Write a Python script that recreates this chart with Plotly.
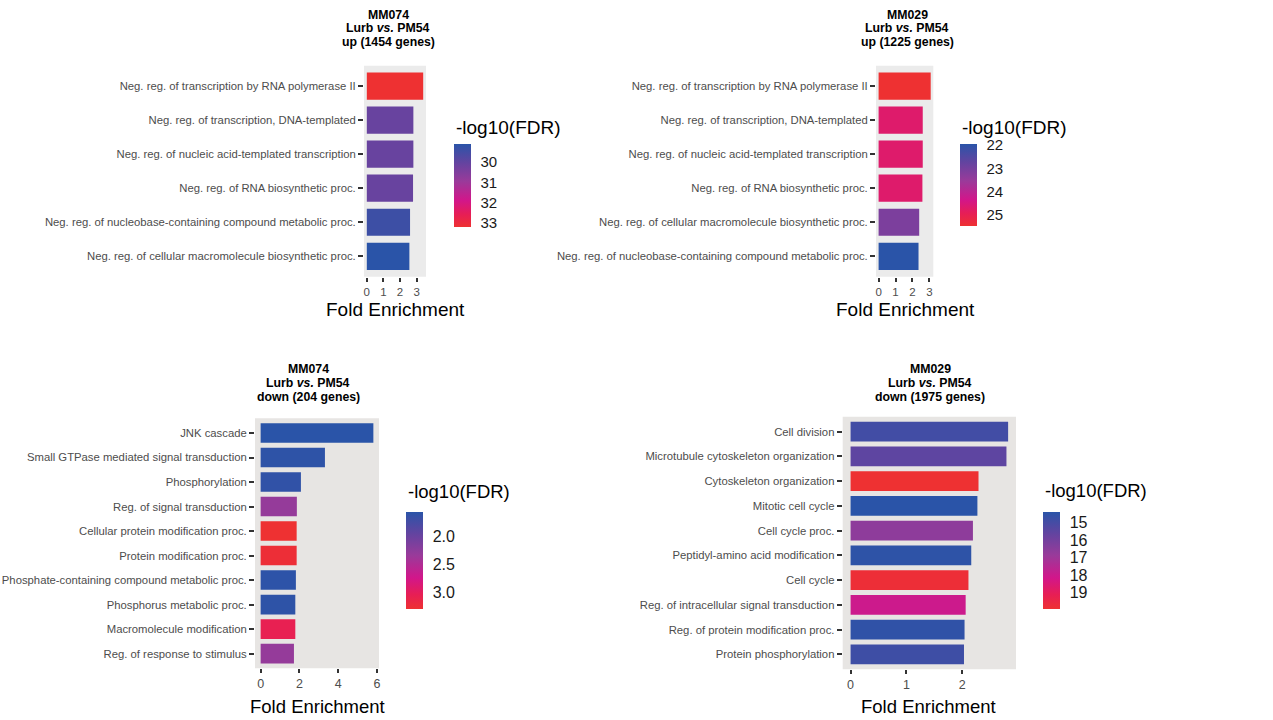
import plotly.graph_objects as go

# ---------------- data ----------------
p1_terms = ["Neg. reg. of transcription by RNA polymerase II",
            "Neg. reg. of transcription, DNA-templated",
            "Neg. reg. of nucleic acid-templated transcription",
            "Neg. reg. of RNA biosynthetic proc.",
            "Neg. reg. of nucleobase-containing compound metabolic proc.",
            "Neg. reg. of cellular macromolecule biosynthetic proc."]
p1_fold = [3.39, 2.80, 2.80, 2.78, 2.60, 2.56]
p1_fdr = [33.2, 30.1, 30.1, 30.1, 29.4, 29.1]
p1_cb_ticks = [30, 31, 32, 33]
p1_cb_text = ["30", "31", "32", "33"]
p1_x_ticks = [0, 1, 2, 3]
p1_title = ["MM074", "Lurb <i>vs.</i> PM54", "up (1454 genes)"]

p2_terms = ["Neg. reg. of transcription by RNA polymerase II",
            "Neg. reg. of transcription, DNA-templated",
            "Neg. reg. of nucleic acid-templated transcription",
            "Neg. reg. of RNA biosynthetic proc.",
            "Neg. reg. of cellular macromolecule biosynthetic proc.",
            "Neg. reg. of nucleobase-containing compound metabolic proc."]
p2_fold = [3.08, 2.61, 2.61, 2.59, 2.40, 2.36]
p2_fdr = [25.47, 24.7, 24.7, 24.7, 23.1, 21.96]
p2_cb_ticks = [22, 23, 24, 25]
p2_cb_text = ["22", "23", "24", "25"]
p2_x_ticks = [0, 1, 2, 3]
p2_title = ["MM029", "Lurb <i>vs.</i> PM54", "up (1225 genes)"]

p3_terms = ["JNK cascade",
            "Small GTPase mediated signal transduction",
            "Phosphorylation",
            "Reg. of signal transduction",
            "Cellular protein modification proc.",
            "Protein modification proc.",
            "Phosphate-containing compound metabolic proc.",
            "Phosphorus metabolic proc.",
            "Macromolecule modification",
            "Reg. of response to stimulus"]
p3_fold = [5.82, 3.32, 2.08, 1.87, 1.86, 1.86, 1.82, 1.79, 1.79, 1.72]
p3_fdr = [1.55, 1.58, 1.60, 2.3, 3.29, 3.25, 1.57, 1.58, 3.05, 2.3]
p3_cb_ticks = [2.0, 2.5, 3.0]
p3_cb_text = ["2.0", "2.5", "3.0"]
p3_x_ticks = [0, 2, 4, 6]
p3_title = ["MM074", "Lurb <i>vs.</i> PM54", "down (204 genes)"]

p4_terms = ["Cell division",
            "Microtubule cytoskeleton organization",
            "Cytoskeleton organization",
            "Mitotic cell cycle",
            "Cell cycle proc.",
            "Peptidyl-amino acid modification",
            "Cell cycle",
            "Reg. of intracellular signal transduction",
            "Reg. of protein modification proc.",
            "Protein phosphorylation"]
p4_fold = [2.82, 2.79, 2.29, 2.27, 2.19, 2.16, 2.11, 2.06, 2.04, 2.03]
p4_fdr = [14.9, 15.5, 19.92, 14.37, 16.6, 14.45, 19.8, 18.0, 14.5, 14.8]
p4_cb_ticks = [15, 16, 17, 18, 19]
p4_cb_text = ["15", "16", "17", "18", "19"]
p4_x_ticks = [0, 1, 2]
p4_title = ["MM029", "Lurb <i>vs.</i> PM54", "down (1975 genes)"]

x_label = "Fold Enrichment"
cb_label = "-log10(FDR)"

# ---------------- style / layout ----------------
W, H = 1273, 720
COLORSCALE = [[0.0, "#ee3132"], [0.15, "#e71e55"], [0.32, "#d2168a"],
              [0.55, "#9a3a9a"], [0.78, "#6244a0"], [1.0, "#2a54a8"]]
REG = "Liberation Sans, Arial, sans-serif"


def fx(p):
    return p / W


def fy(p):
    return 1 - p / H


panels = [
    dict(terms=p1_terms, fold=p1_fold, fdr=p1_fdr, cbt=p1_cb_ticks, cbtx=p1_cb_text,
         xt=p1_x_ticks, title=p1_title,
         dx=(364, 426), dy=(65.7, 276.7), cb=(454.3, 144, 227), cbtitle=(454, 127),
         tx=388.3, ty=(14.7, 28.3, 42), xlab=(395, 309), lab_font=11.3,
         tick_font=11.5, big_font=19, cb_font=15, bg="#ebebeb"),
    dict(terms=p2_terms, fold=p2_fold, fdr=p2_fdr, cbt=p2_cb_ticks, cbtx=p2_cb_text,
         xt=p2_x_ticks, title=p2_title,
         dx=(876, 933.3), dy=(65.7, 276.7), cb=(960, 144, 226), cbtitle=(960, 127),
         tx=907.3, ty=(14.7, 28.3, 42), xlab=(905, 309), lab_font=11.3,
         tick_font=11.5, big_font=19, cb_font=15, bg="#ebebeb"),
    dict(terms=p3_terms, fold=p3_fold, fdr=p3_fdr, cbt=p3_cb_ticks, cbtx=p3_cb_text,
         xt=p3_x_ticks, title=p3_title,
         dx=(255, 379), dy=(418.3, 668.3), cb=(406, 511.7, 608.3), cbtitle=(406, 491.5),
         tx=308, ty=(369.3, 382.7, 396.7), xlab=(317, 706), lab_font=11.3,
         tick_font=12.5, big_font=18.5, cb_font=16, bg="#e7e5e3"),
    dict(terms=p4_terms, fold=p4_fold, fdr=p4_fdr, cbt=p4_cb_ticks, cbtx=p4_cb_text,
         xt=p4_x_ticks, title=p4_title,
         dx=(842.7, 1016), dy=(416.7, 669.3), cb=(1043.3, 511.7, 608.3), cbtitle=(1043.3, 490),
         tx=930, ty=(369.3, 382.7, 396.7), xlab=(929, 706), lab_font=11.3,
         tick_font=12.5, big_font=18.5, cb_font=16, bg="#e7e5e3"),
]

fig = go.Figure()
layout = dict(width=W, height=H,
              margin=dict(l=0, r=0, t=0, b=0, autoexpand=False),
              paper_bgcolor="white", plot_bgcolor="rgba(0,0,0,0)",
              showlegend=False, annotations=[], shapes=[],
              font=dict(family=REG, color="#1a1a1a"))

for i, p in enumerate(panels, start=1):
    xa = "x" if i == 1 else f"x{i}"
    ya = "y" if i == 1 else f"y{i}"
    n = len(p["terms"])
    neg = [-v for v in p["fdr"]]
    cb_y0, cb_y1 = p["cb"][1], p["cb"][2]
    fig.add_trace(go.Bar(
        x=p["fold"], y=p["terms"], orientation="h", width=0.8,
        xaxis=xa, yaxis=ya,
        marker=dict(color=neg, colorscale=COLORSCALE, cmin=min(neg), cmax=max(neg),
                    line=dict(width=0),
                    colorbar=dict(x=fx(p["cb"][0]), xanchor="left", xpad=0, ypad=0,
                                  y=fy((cb_y0 + cb_y1) / 2), yanchor="middle",
                                  len=cb_y1 - cb_y0, lenmode="pixels",
                                  thickness=17, outlinewidth=0,
                                  tickvals=[-v for v in p["cbt"]], ticktext=p["cbtx"],
                                  ticks="outside", ticklen=7, tickcolor="rgba(0,0,0,0)",
                                  tickfont=dict(size=p["cb_font"], color="#1a1a1a",
                                                family=REG))),
        hoverinfo="x+y"))
    mx = max(p["fold"])
    layout["xaxis" if i == 1 else f"xaxis{i}"] = dict(
        domain=[fx(p["dx"][0]), fx(p["dx"][1])], anchor=ya, automargin=False,
        range=[-0.05 * mx, 1.05 * mx], tickvals=p["xt"],
        showgrid=False, zeroline=False, showline=False,
        ticks="outside", ticklen=4, tickwidth=2, tickcolor="#333333",
        tickfont=dict(size=p["tick_font"], color="#4d4d4d", family=REG))
    layout["yaxis" if i == 1 else f"yaxis{i}"] = dict(
        domain=[fy(p["dy"][1]), fy(p["dy"][0])], anchor=xa, automargin=False,
        type="category", categoryorder="array", categoryarray=p["terms"],
        range=[n - 0.4, -0.6],
        showgrid=False, zeroline=False, showline=False,
        ticks="outside", ticklen=5, tickwidth=2, tickcolor="#333333",
        tickfont=dict(size=p["lab_font"], color="#4d4d4d", family=REG))
    layout["shapes"].append(dict(type="rect", xref=f"{xa} domain", yref=f"{ya} domain",
                                 x0=0, x1=1, y0=0, y1=1, fillcolor=p["bg"],
                                 line=dict(width=0), layer="below"))
    for line, ly in zip(p["title"], p["ty"]):
        layout["annotations"].append(dict(
            text="<b>" + line + "</b>", x=fx(p["tx"]), y=fy(ly),
            xref="paper", yref="paper", xanchor="center", yanchor="middle", showarrow=False,
            font=dict(size=12.3, color="black", family=REG)))
    layout["annotations"].append(dict(
        text=x_label, x=fx(p["xlab"][0]), y=fy(p["xlab"][1]), xref="paper", yref="paper",
        xanchor="center", yanchor="middle", showarrow=False,
        font=dict(size=p["big_font"], color="black", family=REG)))
    layout["annotations"].append(dict(
        text=cb_label, x=fx(p["cbtitle"][0]), y=fy(p["cbtitle"][1]), xref="paper", yref="paper",
        xanchor="left", yanchor="middle", showarrow=False,
        font=dict(size=p["big_font"], color="black", family=REG)))

fig.update_layout(**layout)
fig.write_html("out.html", config={"displayModeBar": False},
               post_script="document.body.style.margin='0';document.body.style.padding='0';")
